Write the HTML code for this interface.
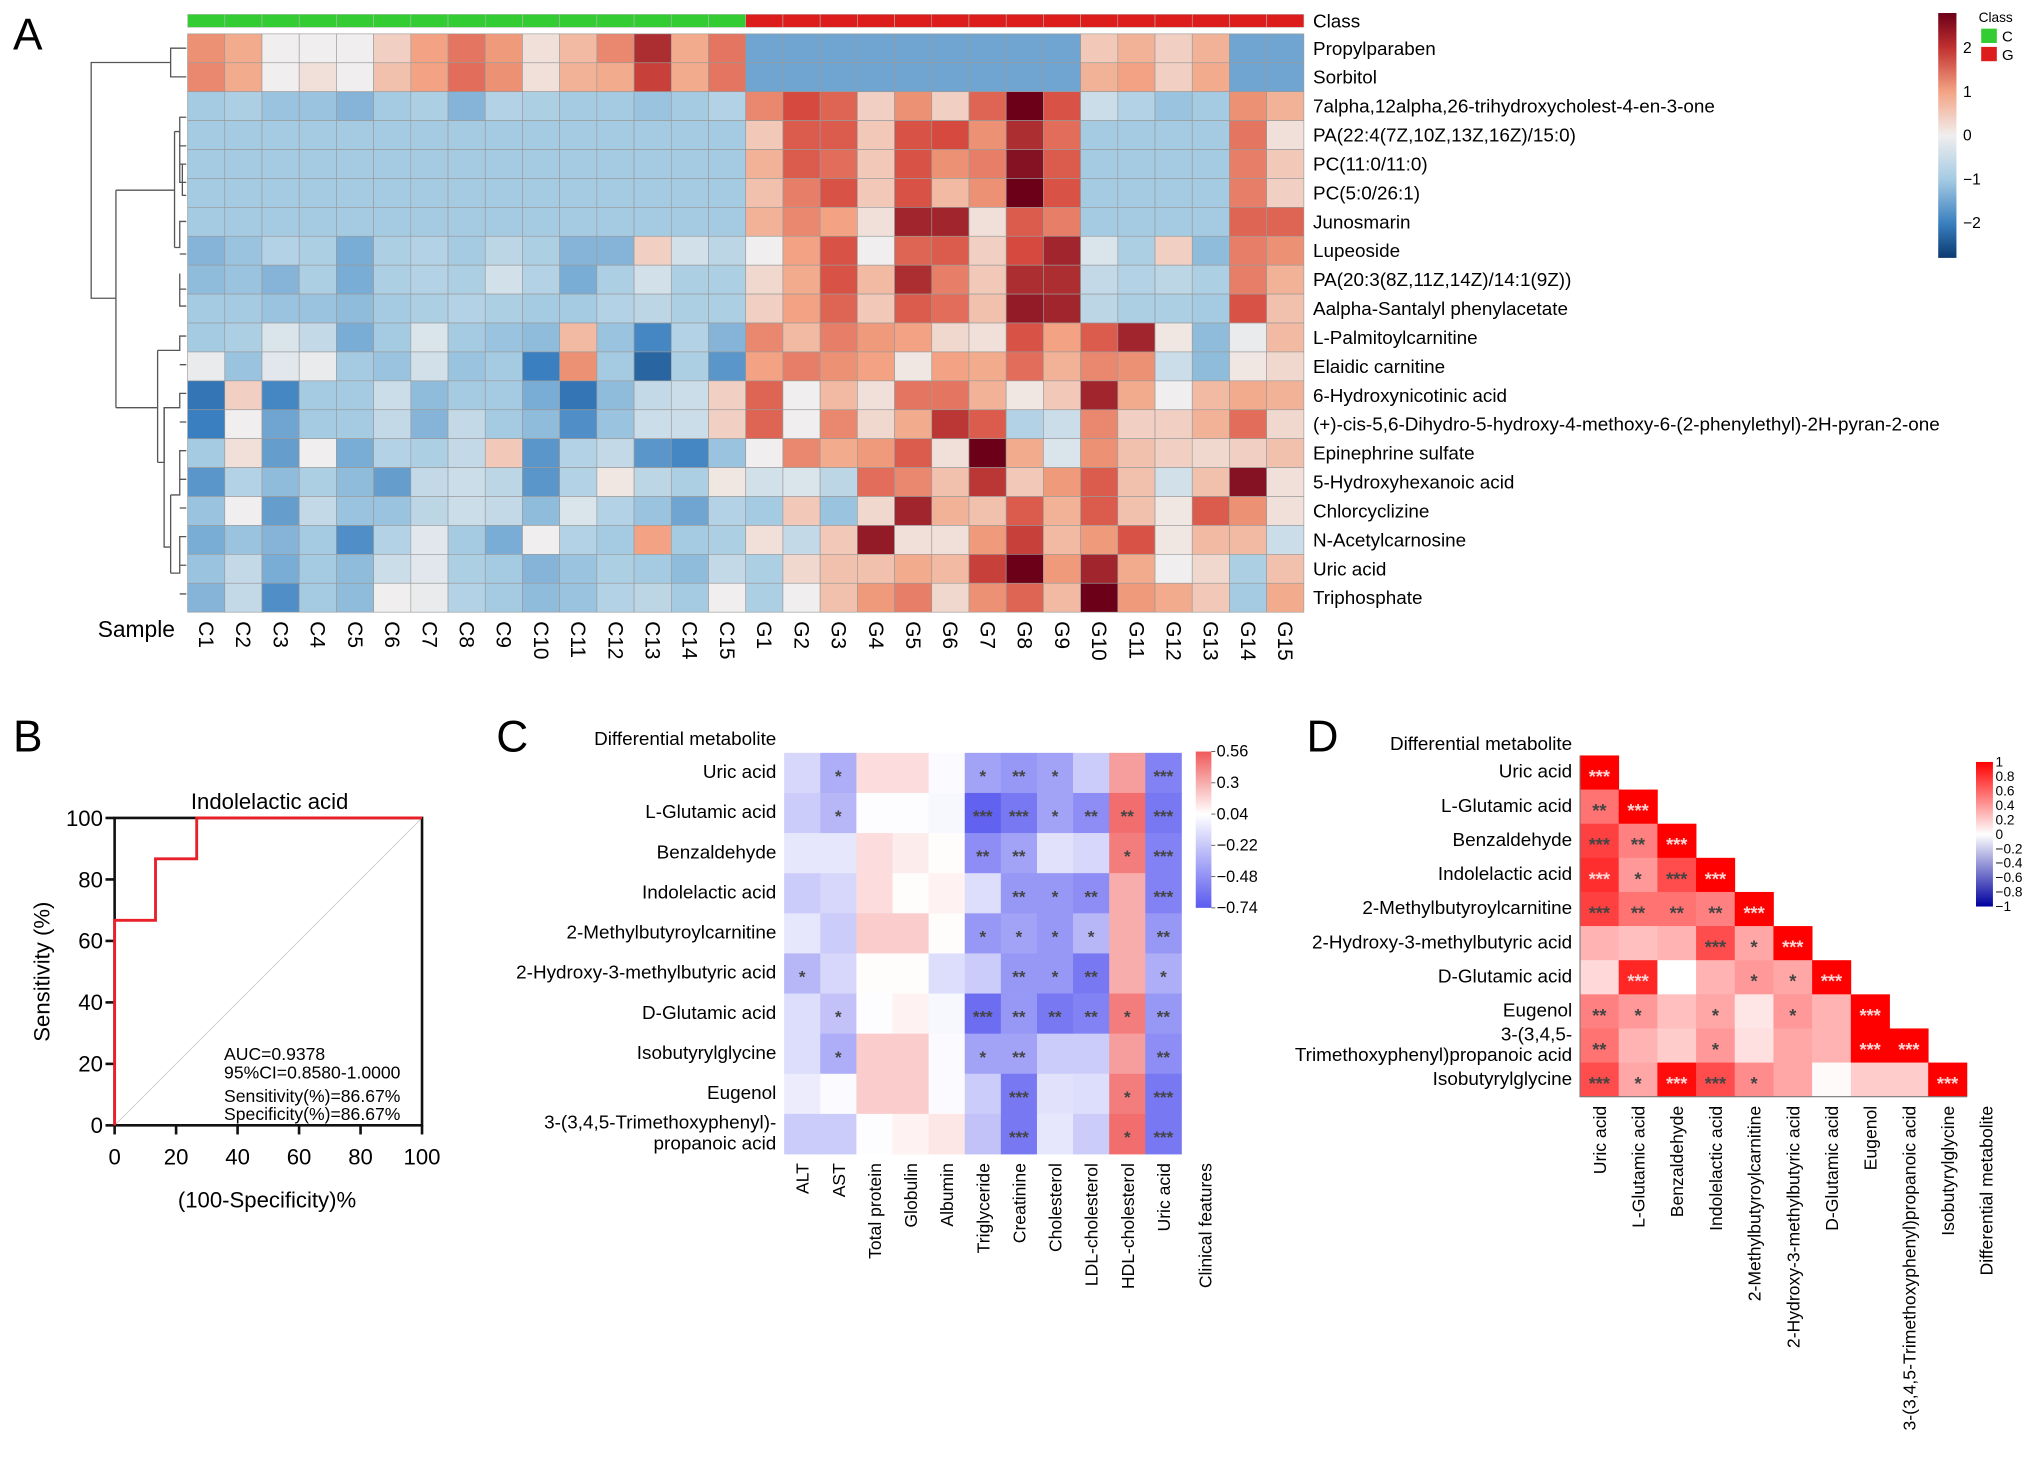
<!DOCTYPE html>
<html><head><meta charset="utf-8">
<style>
html,body{margin:0;padding:0;background:#fff;}
svg{display:block;font-family:"Liberation Sans",Arial,sans-serif;}
</style></head>
<body>
<svg id="fig" width="2032" height="1464" viewBox="0 0 1560 1124" preserveAspectRatio="none" xmlns="http://www.w3.org/2000/svg">
<rect width="1560" height="1124" fill="#fff"/>
<text x="10" y="38" font-size="34">A</text>
<text x="10" y="577" font-size="34">B</text>
<text x="381" y="577" font-size="34">C</text>
<text x="1003" y="577" font-size="34">D</text>
<g id="dendro" stroke="#555" stroke-width="1" fill="none">
<path d="M143,37 H131 V59 H143"/>
<path d="M131,48 H70 V229 H89"/>
<path d="M89,146 V313"/>
<path d="M89,146 H134 M134,101 V190"/>
<path d="M134,101 H138 V90 H143 M138,90 V140 H143 M138,112 H143 M138,126 H143 M140,126 V150 H143"/>
<path d="M134,190 H138 V170 H143 M138,195 H143 M138,210 V235 H143 M138,222 H143"/>
<path d="M89,313 H121 M121,269 V355"/>
<path d="M121,269 H138 V258 H143 M138,280 H143"/>
<path d="M121,355 H126 V313 H138 V302 H143 M138,324 H143"/>
<path d="M126,313 V420 H131 M131,380 V440"/>
<path d="M131,380 H138 V346 H143 M138,368 H143 M138,390 H143 M131,440 H138 V412 H143 M138,434 H143 M138,456 H143"/>
</g>
<g id="panelA"></g>
<g id="panelB"></g>
<g id="panelC"></g>
<g id="panelD"></g>
<defs>
<linearGradient id="gradA" x1="0" y1="0" x2="0" y2="1">
<stop offset="0" stop-color="#6b0018"/><stop offset="0.14" stop-color="#c0302f"/><stop offset="0.32" stop-color="#f3a383"/><stop offset="0.5" stop-color="#f0eeee"/><stop offset="0.68" stop-color="#a5cbe3"/><stop offset="0.86" stop-color="#3a7fbf"/><stop offset="1" stop-color="#0b3a70"/>
</linearGradient>
<linearGradient id="gradC" x1="0" y1="0" x2="0" y2="1">
<stop offset="0" stop-color="#f05a5a"/><stop offset="0.4" stop-color="#ffffff"/><stop offset="1" stop-color="#5a5af0"/>
</linearGradient>
<linearGradient id="gradD" x1="0" y1="0" x2="0" y2="1">
<stop offset="0" stop-color="#ff0000"/><stop offset="0.5" stop-color="#ffffff"/><stop offset="1" stop-color="#0000a0"/>
</linearGradient>
</defs>
</svg>
<script>
// ---------- Panel A data ----------
const aRows = ["Propylparaben","Sorbitol","7alpha,12alpha,26-trihydroxycholest-4-en-3-one","PA(22:4(7Z,10Z,13Z,16Z)/15:0)","PC(11:0/11:0)","PC(5:0/26:1)","Junosmarin","Lupeoside","PA(20:3(8Z,11Z,14Z)/14:1(9Z))","Aalpha-Santalyl phenylacetate","L-Palmitoylcarnitine","Elaidic carnitine","6-Hydroxynicotinic acid","(+)-cis-5,6-Dihydro-5-hydroxy-4-methoxy-6-(2-phenylethyl)-2H-pyran-2-one","Epinephrine sulfate","5-Hydroxyhexanoic acid","Chlorcyclizine","N-Acetylcarnosine","Uric acid","Triphosphate"];
const aSamples = ["C1","C2","C3","C4","C5","C6","C7","C8","C9","C10","C11","C12","C13","C14","C15","G1","G2","G3","G4","G5","G6","G7","G8","G9","G10","G11","G12","G13","G14","G15"];
const aClass = ["C","C","C","C","C","C","C","C","C","C","C","C","C","C","C","G","G","G","G","G","G","G","G","G","G","G","G","G","G","G"];
const aValues = [
[1.2,0.9,0,0,0,0.4,1,1.5,1.1,0.2,0.7,1.3,2.3,0.9,1.5,-1.5,-1.5,-1.5,-1.5,-1.5,-1.5,-1.5,-1.5,-1.5,0.5,0.8,0.4,0.8,-1.5,-1.5],
[1.3,0.9,0,0.2,0,0.6,1,1.6,1.2,0.2,0.8,0.9,2.1,0.9,1.5,-1.5,-1.5,-1.5,-1.5,-1.5,-1.5,-1.5,-1.5,-1.5,0.8,1,0.4,0.9,-1.5,-1.5],
[-1,-0.9,-1.1,-1.1,-1.3,-1,-0.9,-1.3,-0.8,-0.9,-1,-1,-1.1,-1,-0.8,1.3,2,1.7,0.4,1.2,0.4,1.7,2.8,1.9,-0.5,-0.8,-1.1,-1,1.2,0.8],
[-1,-1,-1,-1,-1,-1,-1,-1,-1,-1,-1,-1,-1,-1,-1,0.5,1.8,1.8,0.5,1.9,2,1.2,2.3,1.6,-1,-1,-1,-1,1.5,0.2],
[-1,-1,-1,-1,-1,-1,-1,-1,-1,-1,-1,-1,-1,-1,-1,0.8,1.8,1.6,0.5,1.9,1.2,1.4,2.6,1.8,-1,-1,-1,-1,1.4,0.5],
[-1,-1,-1,-1,-1,-1,-1,-1,-1,-1,-1,-1,-1,-1,-1,0.6,1.4,1.9,0.5,1.9,0.7,1.2,2.8,1.9,-1,-1,-1,-1,1.4,0.4],
[-1,-1,-1,-1,-1,-1,-1,-1,-1,-1,-1,-1,-1,-1,-1,0.8,1.3,1,0.2,2.4,2.4,0.2,1.8,1.4,-1,-1,-1,-1,1.7,1.7],
[-1.3,-1.1,-0.8,-0.9,-1.4,-0.9,-0.8,-1,-0.7,-0.9,-1.3,-1.3,0.4,-0.4,-0.7,0,1,1.9,0,1.7,1.8,0.4,2,2.4,-0.3,-0.9,0.4,-1.2,1.4,1.2],
[-1.2,-1.1,-1.3,-0.9,-1.4,-0.9,-0.8,-0.9,-0.4,-0.8,-1.4,-0.9,-0.4,-0.9,-0.9,0.3,0.9,1.9,0.7,2.3,1.4,0.5,2.3,2.3,-0.6,-0.8,-0.7,-0.9,1.4,0.8],
[-1,-1,-1.1,-1.1,-1.2,-1,-0.9,-0.8,-0.9,-1,-1,-0.8,-0.7,-0.9,-0.9,0.4,1,1.7,0.5,1.8,1.6,0.6,2.5,2.4,-0.7,-0.9,-0.9,-1,1.9,0.6],
[-1,-0.9,-0.3,-0.6,-1.4,-1,-0.3,-1,-1.1,-1.2,0.7,-1.1,-1.9,-0.8,-1.3,1.3,0.7,1.4,1.1,1,0.3,0.2,1.9,1,1.8,2.4,0.1,-1.2,-0.1,0.7],
[-0.1,-1.1,-0.2,-0.1,-1,-1.1,-0.4,-1.1,-1,-2,1.2,-1,-2.3,-0.9,-1.7,1,1.4,1.2,1,0.1,1,0.9,1.6,0.8,1.3,1.2,-0.5,-1.2,0.1,0.3],
[-2.1,0.4,-1.9,-1,-1,-0.5,-1.2,-1,-1,-1.4,-2.1,-1.2,-0.6,-0.5,0.4,1.7,0,0.7,0.2,1.5,1.5,0.8,0.1,0.5,2.4,0.9,0,0.7,0.9,0.8],
[-2,0,-1.5,-1,-1,-0.6,-1.3,-0.6,-1,-1.2,-1.8,-1.1,-0.5,-0.5,0.4,1.7,0,1.3,0.3,0.9,2.2,1.8,-0.8,-0.5,1.3,0.4,0.4,0.8,1.6,0.3],
[-1,0.2,-1.6,0,-1.4,-0.8,-0.9,-0.6,0.5,-1.7,-0.8,-0.6,-1.7,-1.9,-1.1,0,1.3,0.9,1.1,1.8,0.2,3,0.9,-0.3,1.2,0.6,0.4,0.3,0.4,0.6],
[-1.7,-0.8,-1.2,-0.9,-1.2,-1.6,-0.6,-0.5,-0.7,-1.7,-0.8,0.1,-0.7,-0.9,0.1,-0.4,-0.3,-0.7,1.6,1.3,0.6,2.2,0.5,1.1,1.8,0.6,-0.4,0.6,2.6,0.2],
[-1.1,0,-1.6,-0.6,-1.1,-1.1,-0.7,-0.5,-0.6,-1.2,-0.3,-0.8,-1.1,-1.5,-0.8,-1,0.5,-1.1,0.3,2.4,0.8,0.6,1.8,0.8,1.8,0.6,0.1,1.8,1.2,0.2],
[-1.4,-1.1,-1.3,-1,-1.8,-0.8,-0.2,-1,-1.4,0,-0.8,-1,1,-1,-0.9,0.2,-0.6,0.5,2.5,0.2,0.2,1.1,2.1,0.7,1.1,1.9,0.1,0.7,0.7,-0.5],
[-1.1,-0.6,-1.4,-1,-1.2,-0.5,-0.2,-0.9,-1,-1.3,-1.1,-0.9,-1,-1.2,-0.6,-0.9,0.3,0.6,0.6,0.9,0.7,2.1,2.8,1.1,2.4,0.9,0,0.3,-0.9,0.6],
[-1.3,-0.6,-1.8,-1,-1.2,0,-0.1,-0.8,-1,-1.2,-1.1,-0.8,-0.7,-1,0,-0.9,0,0.6,1.1,1.4,0.3,1.2,1.7,0.7,2.9,1.1,0.9,0.5,-1,0.9]
];
const aLegendTicks = [2,1,0,-1,-2];

// ---------- Panel B data ----------
const rocFpr = [0,0,13.3,13.3,26.7,26.7,100];
const rocTpr = [0,66.7,66.7,86.7,86.7,100,100];
const bTicks = [0,20,40,60,80,100];

// ---------- Panel C data ----------
const cRows = ["Uric acid","L-Glutamic acid","Benzaldehyde","Indolelactic acid","2-Methylbutyroylcarnitine","2-Hydroxy-3-methylbutyric acid","D-Glutamic acid","Isobutyrylglycine","Eugenol","3-(3,4,5-Trimethoxyphenyl)-|propanoic acid"];
const cCols = ["ALT","AST","Total protein","Globulin","Albumin","Triglyceride","Creatinine","Cholesterol","LDL-cholesterol","HDL-cholesterol","Uric acid"];
const cValues = [
[-0.15,-0.35,0.15,0.15,0.02,-0.4,-0.45,-0.4,-0.2,0.35,-0.55],
[-0.2,-0.3,0.03,0.03,0,-0.7,-0.6,-0.4,-0.5,0.5,-0.6],
[-0.08,-0.08,0.15,0.1,0.05,-0.5,-0.4,-0.1,-0.15,0.45,-0.55],
[-0.2,-0.15,0.15,0.05,0.08,-0.12,-0.45,-0.45,-0.5,0.3,-0.55],
[-0.08,-0.2,0.2,0.2,0.05,-0.45,-0.4,-0.45,-0.3,0.3,-0.45],
[-0.3,-0.15,0.05,0.05,-0.12,-0.2,-0.45,-0.45,-0.6,0.3,-0.35],
[-0.12,-0.25,0.03,0.08,0,-0.65,-0.45,-0.6,-0.55,0.45,-0.45],
[-0.12,-0.35,0.2,0.2,0.02,-0.4,-0.4,-0.2,-0.2,0.35,-0.5],
[-0.05,0.02,0.2,0.2,0.02,-0.2,-0.6,-0.1,-0.12,0.45,-0.6],
[-0.2,-0.2,0.03,0.08,0.12,-0.25,-0.6,-0.08,-0.2,0.5,-0.6]
];
const cStars = [
["","*","","","","*","**","*","","","***"],
["","*","","","","***","***","*","**","**","***"],
["","","","","","**","**","","","*","***"],
["","","","","","","**","*","**","","***"],
["","","","","","*","*","*","*","","**"],
["*","","","","","","**","*","**","","*"],
["","*","","","","***","**","**","**","*","**"],
["","*","","","","*","**","","","","**"],
["","","","","","","***","","","*","***"],
["","","","","","","***","","","*","***"]
];
const cTicks = [0.56,0.3,0.04,-0.22,-0.48,-0.74];

// ---------- Panel D data ----------
const dNames = ["Uric acid","L-Glutamic acid","Benzaldehyde","Indolelactic acid","2-Methylbutyroylcarnitine","2-Hydroxy-3-methylbutyric acid","D-Glutamic acid","Eugenol","3-(3,4,5-Trimethoxyphenyl)propanoic acid","Isobutyrylglycine"];
const dValues = [
[1],
[0.55,1],
[0.75,0.5,1],
[0.82,0.4,0.7,1],
[0.75,0.55,0.55,0.5,1],
[0.3,0.25,0.3,0.7,0.35,1],
[0.15,0.85,0,0.3,0.4,0.35,1],
[0.5,0.4,0.25,0.35,0.1,0.4,0.3,1],
[0.55,0.3,0.2,0.4,0.12,0.35,0.3,1,1],
[0.7,0.35,0.95,0.7,0.45,0.35,0.02,0.2,0.2,1]
];
const dStars = [
["***"],
["**","***"],
["***","**","***"],
["***","*","***","***"],
["***","**","**","**","***"],
["","","","***","*","***"],
["","***","","","*","*","***"],
["**","*","","*","","*","","***"],
["**","","","*","","","","***","***"],
["***","*","***","***","*","","","","","***"]
];
const dTicks = [1,0.8,0.6,0.4,0.2,0,-0.2,-0.4,-0.6,-0.8,-1];

const NS = "http://www.w3.org/2000/svg";
function mk(parent, tag, attrs, txt){
  const e = document.createElementNS(NS, tag);
  for (const k in attrs) e.setAttribute(k, attrs[k]);
  if (txt !== undefined) e.textContent = txt;
  parent.appendChild(e);
  return e;
}
function hex(h){return [parseInt(h.slice(1,3),16),parseInt(h.slice(3,5),16),parseInt(h.slice(5,7),16)];}
function ramp(stops, v){
  if (v <= stops[0][0]) return stops[0][1];
  if (v >= stops[stops.length-1][0]) return stops[stops.length-1][1];
  for (let i=0;i<stops.length-1;i++){
    const a=stops[i], b=stops[i+1];
    if (v>=a[0] && v<=b[0]){
      const t=(v-a[0])/(b[0]-a[0]); const ca=hex(a[1]), cb=hex(b[1]);
      return "rgb("+ca.map((c,j)=>Math.round(c+(cb[j]-c)*t)).join(",")+")";
    }
  }
}
const stopsA = [[-2.8,"#0b3a70"],[-2,"#3a7fbf"],[-1,"#a5cbe3"],[0,"#f0eeee"],[1,"#f3a383"],[2,"#d5493f"],[2.8,"#6b0018"]];
const stopsC = [[-0.74,"#5a5af0"],[0.04,"#ffffff"],[0.56,"#f05a5a"]];
const stopsD = [[-1,"#0000a0"],[0,"#ffffff"],[1,"#ff0000"]];

// ---------- Panel A ----------
(function(){
  const g = document.getElementById("panelA");
  const x0=144, x1=1001, y0=26, y1=470;
  const cw=(x1-x0)/aSamples.length, rh=(y1-y0)/aRows.length;
  const xA = i => x0 + i*cw;
  const yA = r => y0 + r*rh;
  aClass.forEach((c,i)=>{
    const r = mk(g,"rect",{x:xA(i),y:11,width:cw,height:10,fill:c==="C"?"#33cc33":"#dd1c1c",stroke:"#bbb","stroke-width":0.4});
    
    
  });
  const cl = mk(g,"text",{x:1008,y:21,"font-size":14.5},"Class");
  
  
  aValues.forEach((row,r)=>{
    row.forEach((v,i)=>{
      const c = mk(g,"rect",{x:xA(i),y:yA(r),width:cw,height:rh,fill:ramp(stopsA,v),stroke:"#9a9a9a","stroke-width":0.5});
      
      
    });
    const t = mk(g,"text",{x:1008,y:yA(r)+rh/2+5,"font-size":14.5},aRows[r]);
    
    
  });
  aSamples.forEach((s,i)=>{
    const cx = xA(i)+cw/2;
    const t = mk(g,"text",{x:0,y:0,"font-size":16,transform:"translate("+(cx-5.5)+",477) rotate(90)"},s);
    
    
  });
  const sl = mk(g,"text",{x:75,y:489,"font-size":17.5},"Sample");
  
  
  // legend
  const lb = mk(g,"rect",{x:1488,y:10,width:14,height:188,fill:"url(#gradA)"});
  
  
  const yL = v => 104 - v*33.6;
  aLegendTicks.forEach(v=>{
    const t = mk(g,"text",{x:1507,y:yL(v)+4,"font-size":12},v===0?"0":(v<0?"−"+(-v):String(v)));
    
    
  });
  const lt = mk(g,"text",{x:1519,y:17,"font-size":10.5},"Class");
  
  
  [["C","#33cc33",22],["G","#dd1c1c",36]].forEach(a=>{
    const r = mk(g,"rect",{x:1521,y:a[2],width:12,height:11,fill:a[1]});
    
    
    const t = mk(g,"text",{x:1537,y:a[2]+10,"font-size":11.5},a[0]);
    
    
  });
})();

// ---------- Panel B ----------
(function(){
  const g = document.getElementById("panelB");
  const L=88, R=324, T=628, B=864;
  const xB = v => L + v/100*(R-L);
  const yB = v => B - v/100*(B-T);
  const d = mk(g,"line",{x1:xB(0),y1:yB(0),x2:xB(100),y2:yB(100),stroke:"#ccc","stroke-width":0.7});
  
  
  const fr = mk(g,"path",{d:"M"+L+","+B+" V"+T+" H"+R+" V"+B+" H"+L,fill:"none",stroke:"#111","stroke-width":2});
  
  
  bTicks.forEach(v=>{
    const a = mk(g,"line",{x1:L-7,y1:yB(v),x2:L,y2:yB(v),stroke:"#111","stroke-width":2});
    
    
    const t = mk(g,"text",{x:L-9,y:yB(v)+6,"font-size":17,"text-anchor":"end"},v);
    
    
    const b = mk(g,"line",{x1:xB(v),y1:B,x2:xB(v),y2:B+7,stroke:"#111","stroke-width":2});
    
    
    const u = mk(g,"text",{x:xB(v),y:B+30,"font-size":17,"text-anchor":"middle"},v);
    
    
  });
  let p = "";
  rocFpr.forEach((f,i)=>{ p += (i?"L":"M")+xB(f)+","+yB(rocTpr[i]); });
  const roc = mk(g,"path",{d:p,fill:"none",stroke:"#e8202a","stroke-width":2.2});
  
  
  const ti = mk(g,"text",{x:207,y:621,"font-size":17,"text-anchor":"middle"},"Indolelactic acid");
  
  
  const xt = mk(g,"text",{x:205,y:927,"font-size":17,"text-anchor":"middle"},"(100-Specificity)%");
  
  
  const yt = mk(g,"text",{x:0,y:0,"font-size":17,"text-anchor":"middle",transform:"translate(38,746) rotate(-90)"},"Sensitivity (%)");
  
  
  [["AUC=0.9378",814],["95%CI=0.8580-1.0000",828],["Sensitivity(%)=86.67%",846],["Specificity(%)=86.67%",860]].forEach(a=>{
    const t = mk(g,"text",{x:172,y:a[1],"font-size":13.5},a[0]);
    
    
  });
})();

// ---------- Panel C ----------
(function(){
  const g = document.getElementById("panelC");
  const x0=602, x1=907, y0=578, y1=886;
  const cw=(x1-x0)/cCols.length, rh=(y1-y0)/cRows.length;
  const xC = i => x0 + i*cw;
  const yC = r => y0 + r*rh;
  const h = mk(g,"text",{x:596,y:572,"font-size":14.5,"text-anchor":"end"},"Differential metabolite");
  
  
  cValues.forEach((row,r)=>{
    row.forEach((v,i)=>{
      const c = mk(g,"rect",{x:xC(i),y:yC(r),width:cw+0.3,height:rh+0.3,fill:ramp(stopsC,v)});
      
      
      if (cStars[r][i]){
        const s = mk(g,"text",{x:xC(i)+cw/2,y:yC(r)+rh/2+7,"font-size":13,"text-anchor":"middle",fill:"#444","font-weight":"bold"},cStars[r][i]);
        
        
      }
    });
    const parts = cRows[r].split("|");
    parts.forEach((p,k)=>{
      const t = mk(g,"text",{x:596,y:yC(r)+rh/2+4+(parts.length>1?(k*16-8):0),"font-size":14.5,"text-anchor":"end"},p);
      
      
    });
  });
  cCols.concat(["Clinical features"]).forEach((c,i)=>{
    const cx = i<cCols.length ? xC(i)+cw/2 : 925;
    const t = mk(g,"text",{x:0,y:0,"font-size":13.5,"text-anchor":"end",transform:"translate("+(cx+5)+",893) rotate(-90)"},c);
    
    
  });
  const lb = mk(g,"rect",{x:918,y:577,width:12,height:120,fill:"url(#gradC)"});
  
  
  const yL = v => 577 + (0.56 - v)/1.3*120;
  cTicks.forEach(v=>{
    const l = mk(g,"line",{x1:930,y1:yL(v),x2:933,y2:yL(v),stroke:"#555","stroke-width":0.7});
    
    
    const t = mk(g,"text",{x:934,y:yL(v)+4,"font-size":12.5},v<0?"−"+(-v):String(v));
    
    
  });
})();

// ---------- Panel D ----------
(function(){
  const g = document.getElementById("panelD");
  const x0=1213, x1=1510, y0=580, y1=842;
  const n = dNames.length;
  const cw=(x1-x0)/n, rh=(y1-y0)/n;
  const xD = i => x0 + i*cw;
  const yD = r => y0 + r*rh;
  const h = mk(g,"text",{x:1207,y:576,"font-size":14.5,"text-anchor":"end"},"Differential metabolite");
  
  
  dValues.forEach((row,r)=>{
    row.forEach((v,i)=>{
      const c = mk(g,"rect",{x:xD(i),y:yD(r),width:cw+0.3,height:rh+0.3,fill:ramp(stopsD,v)});
      
      
      if (dStars[r][i]){
        const s = mk(g,"text",{x:xD(i)+cw/2,y:yD(r)+rh/2+8,"font-size":14,"text-anchor":"middle","font-weight":"bold",fill:v>=0.8?"#ffd6d6":"#444"},dStars[r][i]);
        
        
      }
    });
    const name = dNames[r];
    const parts = name.startsWith("3-(3,4,5") ? ["3-(3,4,5-","Trimethoxyphenyl)propanoic acid"] : [name];
    parts.forEach((p,k)=>{
      const t = mk(g,"text",{x:1207,y:yD(r)+rh/2+4+(parts.length>1?(k*16-8):0),"font-size":14.5,"text-anchor":"end"},p);
      
      
    });
  });
  const bd = mk(g,"path",{d:"M"+x0+","+y0+" V"+y1+" H"+x1,fill:"none",stroke:"#777","stroke-width":0.8});
  
  
  dNames.concat(["Differential metabolite"]).forEach((c,i)=>{
    const cx = xD(i)+cw/2;
    const t = mk(g,"text",{x:0,y:0,"font-size":13.5,"text-anchor":"end",transform:"translate("+(cx+5)+",849) rotate(-90)"},c);
    
    
  });
  const lb = mk(g,"rect",{x:1517,y:585,width:13,height:111,fill:"url(#gradD)"});
  
  
  const yL = v => 585 + (1 - v)/2*111;
  dTicks.forEach(v=>{
    const t = mk(g,"text",{x:1532,y:yL(v)+3.5,"font-size":10.5},v<0?"−"+(-v):String(v));
    
    
  });
})();
</script>
</body></html>
